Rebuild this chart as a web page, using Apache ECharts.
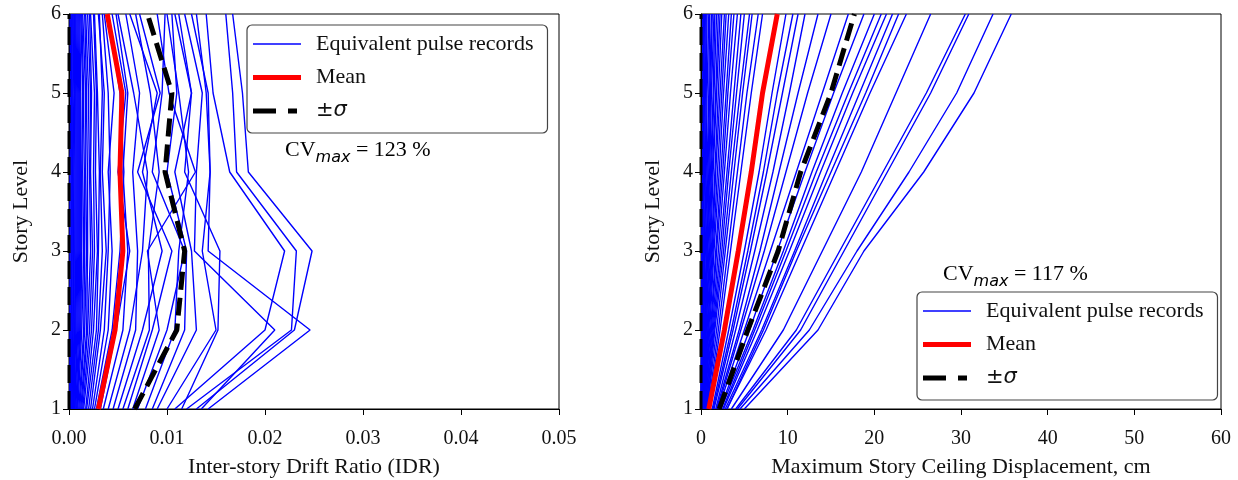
<!DOCTYPE html>
<html>
<head>
<meta charset="utf-8">
<script src="https://cdn.jsdelivr.net/npm/echarts@6/dist/echarts.min.js"></script>
<style>
  html, body { margin: 0; padding: 0; background: #fff; }
  #chart { width: 1238px; height: 480px; }
</style>
</head>
<body>
<div id="chart"></div>
<script>
// Story levels (y axis of both panels)
const stories = [1, 2, 3, 4, 5, 6];

// Peak inter-story drift ratio per story, one row per equivalent pulse record
const idrRecords = [
  [0.0130, 0.0230, 0.0248, 0.0183, 0.0177, 0.0167],
  [0.0120, 0.0227, 0.0232, 0.0171, 0.0167, 0.0160],
  [0.0108, 0.0200, 0.0220, 0.0164, 0.0147, 0.0140],
  [0.0142, 0.0246, 0.0142, 0.0144, 0.0140, 0.0130],
  [0.0135, 0.0210, 0.0128, 0.0130, 0.0136, 0.0118],
  [0.0115, 0.0152, 0.0154, 0.0118, 0.0125, 0.0108],
  [0.0100, 0.0150, 0.0136, 0.0144, 0.0142, 0.0125],
  [0.0090, 0.0130, 0.0125, 0.0108, 0.0125, 0.0112],
  [0.0085, 0.0118, 0.0120, 0.0100, 0.0110, 0.0105],
  [0.0078, 0.0108, 0.0112, 0.0122, 0.0112, 0.0100],
  [0.0070, 0.0100, 0.0118, 0.0085, 0.0095, 0.0098],
  [0.0065, 0.0092, 0.0080, 0.0129, 0.0102, 0.0090],
  [0.0060, 0.0085, 0.0105, 0.0070, 0.0093, 0.0072],
  [0.0055, 0.0082, 0.0081, 0.0092, 0.0083, 0.0068],
  [0.0050, 0.0075, 0.0095, 0.0075, 0.0090, 0.0062],
  [0.0045, 0.0068, 0.0070, 0.0065, 0.0072, 0.0058],
  [0.0040, 0.0062, 0.0075, 0.0080, 0.0066, 0.0050],
  [0.0035, 0.0055, 0.0060, 0.0055, 0.0060, 0.0048],
  [0.0032, 0.0048, 0.0062, 0.0050, 0.0058, 0.0044],
  [0.0028, 0.0044, 0.0052, 0.0056, 0.0052, 0.0040],
  [0.0026, 0.0040, 0.0044, 0.0040, 0.0046, 0.0036],
  [0.0024, 0.0036, 0.0040, 0.0042, 0.0040, 0.0034],
  [0.0022, 0.0032, 0.0038, 0.0034, 0.0036, 0.0030],
  [0.0020, 0.0030, 0.0034, 0.0032, 0.0034, 0.0031],
  [0.0018, 0.0028, 0.0030, 0.0031, 0.0029, 0.0026],
  [0.0017, 0.0025, 0.0029, 0.0027, 0.0028, 0.0025],
  [0.0015, 0.0023, 0.0026, 0.0025, 0.0026, 0.0022],
  [0.0014, 0.0021, 0.0024, 0.0022, 0.0023, 0.0021],
  [0.0013, 0.0019, 0.0022, 0.0021, 0.0022, 0.0019],
  [0.0012, 0.0018, 0.0019, 0.0019, 0.0020, 0.0017],
  [0.0011, 0.0016, 0.0018, 0.0017, 0.0018, 0.0016],
  [0.0010, 0.0015, 0.0016, 0.0016, 0.0017, 0.0014],
  [0.0009, 0.0013, 0.0015, 0.0014, 0.0015, 0.0013],
  [0.0008, 0.0012, 0.0013, 0.0013, 0.0014, 0.0012],
  [0.0008, 0.0011, 0.0012, 0.0012, 0.0012, 0.0011],
  [0.0007, 0.0010, 0.0011, 0.0011, 0.0011, 0.0010],
  [0.0006, 0.0009, 0.0010, 0.0010, 0.0010, 0.0009],
  [0.0006, 0.0008, 0.0009, 0.0009, 0.0009, 0.0008],
  [0.0005, 0.0007, 0.0008, 0.0008, 0.0008, 0.0007],
  [0.0005, 0.0006, 0.0007, 0.0007, 0.0007, 0.0006],
  [0.0004, 0.0006, 0.0006, 0.0006, 0.0006, 0.0006],
  [0.0004, 0.0005, 0.0005, 0.0005, 0.0006, 0.0005],
  [0.0003, 0.0004, 0.0005, 0.0004, 0.0005, 0.0004],
  [0.0003, 0.0004, 0.0004, 0.0004, 0.0004, 0.0004],
  [0.0002, 0.0003, 0.0003, 0.0003, 0.0003, 0.0003],
  [0.0002, 0.0002, 0.0003, 0.0003, 0.0003, 0.0002],
  [0.0001, 0.0002, 0.0002, 0.0002, 0.0002, 0.0002],
  [0.0001, 0.0001, 0.0001, 0.0001, 0.0002, 0.0001]
];
const idrMean       = [0.0030, 0.0047, 0.0055, 0.0052, 0.0054, 0.0039];
const idrPlusSigma  = [0.0067, 0.0110, 0.0118, 0.0098, 0.0105, 0.0080];
const idrMinusSigma = [0, 0, 0, 0, 0, 0];

// Maximum story ceiling displacement (cm) per story, one row per record
const dispRecords = [
  [5.0, 13.5, 18.8, 25.7, 31.5, 35.8],
  [4.5, 12.5, 18.0, 24.0, 29.5, 33.7],
  [4.2, 11.5, 16.5, 21.5, 26.5, 30.9],
  [4.0, 11.0, 16.0, 21.0, 26.0, 30.5],
  [3.5, 9.5, 14.0, 18.5, 22.5, 26.5],
  [3.0, 7.5, 11.5, 15.5, 19.5, 23.7],
  [3.0, 7.2, 11.0, 15.0, 19.0, 22.8],
  [2.8, 7.0, 10.8, 14.5, 18.3, 22.1],
  [2.6, 6.5, 10.2, 13.8, 17.5, 21.4],
  [2.5, 6.2, 9.8, 13.3, 17.0, 20.8],
  [2.3, 6.0, 9.5, 12.8, 16.3, 20.0],
  [2.2, 5.6, 8.8, 12.0, 15.3, 18.8],
  [2.0, 5.0, 8.0, 11.0, 14.0, 17.0],
  [1.9, 4.6, 7.3, 9.8, 12.3, 15.0],
  [1.8, 4.4, 6.8, 9.0, 11.2, 13.5],
  [1.7, 4.0, 6.2, 8.3, 10.2, 12.0],
  [1.5, 3.7, 5.7, 7.6, 9.4, 11.2],
  [1.4, 3.5, 5.4, 7.2, 8.8, 10.6],
  [1.3, 3.2, 5.0, 6.7, 8.2, 9.8],
  [0.9, 2.2, 3.4, 4.6, 5.8, 7.1],
  [0.8, 2.0, 3.1, 4.2, 5.3, 6.6],
  [0.7, 1.8, 2.8, 3.8, 4.8, 5.9],
  [0.7, 1.6, 2.6, 3.5, 4.5, 5.6],
  [0.6, 1.5, 2.4, 3.2, 4.1, 5.0],
  [0.6, 1.4, 2.2, 3.0, 3.8, 4.6],
  [0.5, 1.3, 2.0, 2.7, 3.4, 4.2],
  [0.5, 1.2, 1.8, 2.5, 3.1, 3.8],
  [0.4, 1.1, 1.7, 2.3, 2.9, 3.5],
  [0.4, 1.0, 1.5, 2.1, 2.6, 3.2],
  [0.4, 0.9, 1.4, 1.9, 2.4, 2.9],
  [0.3, 0.8, 1.3, 1.7, 2.2, 2.7],
  [0.3, 0.8, 1.2, 1.6, 2.0, 2.4],
  [0.3, 0.7, 1.1, 1.4, 1.8, 2.2],
  [0.3, 0.6, 1.0, 1.3, 1.7, 2.0],
  [0.2, 0.6, 0.9, 1.2, 1.5, 1.8],
  [0.2, 0.5, 0.8, 1.1, 1.4, 1.6],
  [0.2, 0.5, 0.7, 1.0, 1.2, 1.5],
  [0.2, 0.4, 0.7, 0.9, 1.1, 1.3],
  [0.1, 0.4, 0.6, 0.8, 1.0, 1.2],
  [0.1, 0.3, 0.5, 0.7, 0.9, 1.0],
  [0.1, 0.3, 0.4, 0.6, 0.7, 0.9],
  [0.1, 0.2, 0.4, 0.5, 0.6, 0.7],
  [0.1, 0.2, 0.3, 0.4, 0.5, 0.6],
  [0.1, 0.2, 0.2, 0.3, 0.4, 0.5],
  [0.0, 0.1, 0.2, 0.3, 0.3, 0.4],
  [0.0, 0.1, 0.1, 0.2, 0.3, 0.3],
  [0.0, 0.1, 0.1, 0.2, 0.2, 0.2]
];
const dispMean       = [0.9, 2.7, 4.3, 5.8, 7.1, 8.8];
const dispPlusSigma  = [2.1, 5.4, 8.9, 11.5, 15.0, 17.7];
const dispMinusSigma = [0, 0, 0, 0, 0, 0];

const cvLeft = 123;
const cvRight = 117;

const SERIF = "'Liberation Serif', 'Times New Roman', serif";
const MATH = "'DejaVu Sans', sans-serif";
const TXT = '#111';
const RECORDS = 'Equivalent pulse records';
const MEAN = 'Mean';
const SIGMA = '±σ';

// Legend swatches: a fixed 48x14 box (the lone move-tos pin the bounds)
const ICON_THIN  = 'path://M0,0 M48,14 M0,6.25 L48,6.25 L48,7.75 L0,7.75 Z';
const ICON_THICK = 'path://M0,0 M48,14 M0,4.5 L48,4.5 L48,9.5 L0,9.5 Z';
const ICON_DASH  = 'path://M0,0 M48,14 M0,4.5 L23,4.5 L23,9.5 L0,9.5 Z M35,4.5 L44,4.5 L44,9.5 L35,9.5 Z';

const toPoints = vals => vals.map((v, i) => [v, stories[i]]);

function panelSeries(records, mean, plus, minus, gi) {
  const out = records.map(r => ({
    type: 'line', name: RECORDS, xAxisIndex: gi, yAxisIndex: gi,
    data: toPoints(r), symbol: 'none', silent: true, z: 2,
    lineStyle: { color: '#0000ff', width: 1.4 }, itemStyle: { color: '#0000ff' }
  }));
  out.push({
    type: 'line', name: MEAN, xAxisIndex: gi, yAxisIndex: gi,
    data: toPoints(mean), symbol: 'none', silent: true, z: 3,
    lineStyle: { color: '#ff0000', width: 5 }, itemStyle: { color: '#ff0000' }
  });
  out.push({
    type: 'line', name: SIGMA, xAxisIndex: gi, yAxisIndex: gi,
    data: toPoints(plus), symbol: 'none', silent: true, z: 4,
    lineStyle: { color: '#000', width: 5, type: [18, 8], cap: 'butt' }, itemStyle: { color: '#000' }
  });
  // lower bound sits on the left spine; drawn a little narrower since half of it falls outside the frame
  out.push({
    type: 'line', name: SIGMA, xAxisIndex: gi, yAxisIndex: gi,
    data: toPoints(minus), symbol: 'none', silent: true, z: 4,
    lineStyle: { color: '#000', width: 3, type: [18, 8], cap: 'butt' }, itemStyle: { color: '#000' }
  });
  return out;
}

function xAxisFor(gi, max, interval, name, fmt) {
  return {
    type: 'value', gridIndex: gi, min: 0, max: max, interval: interval,
    name: name, nameLocation: 'middle', nameGap: 47,
    nameTextStyle: { fontFamily: SERIF, fontSize: 22, color: TXT },
    axisLine: { show: true, lineStyle: { color: '#000', width: 1 } },
    axisTick: { show: true, inside: false, length: 6, lineStyle: { color: '#000' } },
    axisLabel: { fontFamily: SERIF, fontSize: 20, color: TXT, margin: 20, formatter: fmt },
    splitLine: { show: false }
  };
}

function yAxisFor(gi) {
  return {
    type: 'value', gridIndex: gi, min: 1, max: 6, interval: 1,
    name: 'Story Level', nameLocation: 'middle', nameGap: 37,
    nameTextStyle: { fontFamily: SERIF, fontSize: 22, color: TXT },
    axisLine: { show: true, lineStyle: { color: '#000', width: 1 } },
    axisTick: { show: true, inside: false, length: 6, lineStyle: { color: '#000' } },
    axisLabel: { fontFamily: SERIF, fontSize: 20, color: TXT, margin: 8 },
    splitLine: { show: false }
  };
}

const legendRich = {
  pm: { fontFamily: MATH, fontSize: 21, color: TXT },
  sg: { fontFamily: MATH, fontSize: 21, fontStyle: 'italic', color: TXT }
};

function legendAt(left, top) {
  return {
    orient: 'vertical', left: left, top: top,
    data: [
      { name: RECORDS, icon: ICON_THIN },
      { name: MEAN, icon: ICON_THICK },
      { name: SIGMA, icon: ICON_DASH }
    ],
    selectedMode: false,
    itemWidth: 48, itemHeight: 14, itemGap: 11.5,
    backgroundColor: 'rgba(255,255,255,0.8)',
    borderColor: '#444', borderWidth: 1.2, borderRadius: 5,
    padding: [8, 14, 11, 6],
    textStyle: { fontFamily: SERIF, fontSize: 22, lineHeight: 22, color: TXT, padding: [0, 0, 0, 10], rich: legendRich },
    formatter: n => (n === SIGMA ? '{pm|±}{sg|σ}' : n)
  };
}

function cvText(left, top, value) {
  return {
    type: 'text', left: left, top: top, z: 10,
    style: {
      text: '{a|CV}{b|max}{a| = ' + value + ' %}',
      rich: {
        a: { fontFamily: SERIF, fontSize: 22, color: TXT, lineHeight: 26, verticalAlign: 'bottom' },
        b: { fontFamily: MATH, fontStyle: 'italic', fontSize: 16, color: TXT,
             lineHeight: 26, verticalAlign: 'bottom', padding: [0, 0, -5, 0] }
      }
    }
  };
}

const gridBase = {
  top: 14, height: 395, show: true, borderColor: '#000', borderWidth: 1,
  backgroundColor: 'transparent', containLabel: false, outerBoundsMode: 'none'
};

const chart = echarts.init(document.getElementById('chart'), null, { renderer: 'canvas' });
chart.setOption({
  animation: false,
  backgroundColor: '#fff',
  grid: [
    Object.assign({ left: 69, width: 490 }, gridBase),
    Object.assign({ left: 701, width: 520 }, gridBase)
  ],
  xAxis: [
    xAxisFor(0, 0.05, 0.01, 'Inter-story Drift Ratio (IDR)', v => v.toFixed(2)),
    xAxisFor(1, 60, 10, 'Maximum Story Ceiling Displacement, cm', v => String(v))
  ],
  yAxis: [yAxisFor(0), yAxisFor(1)],
  legend: [legendAt(247, 25), legendAt(917, 292)],
  graphic: [cvText(285, 139, cvLeft), cvText(943, 263, cvRight)],
  series: [
    ...panelSeries(idrRecords, idrMean, idrPlusSigma, idrMinusSigma, 0),
    ...panelSeries(dispRecords, dispMean, dispPlusSigma, dispMinusSigma, 1)
  ]
});
</script>
</body>
</html>
